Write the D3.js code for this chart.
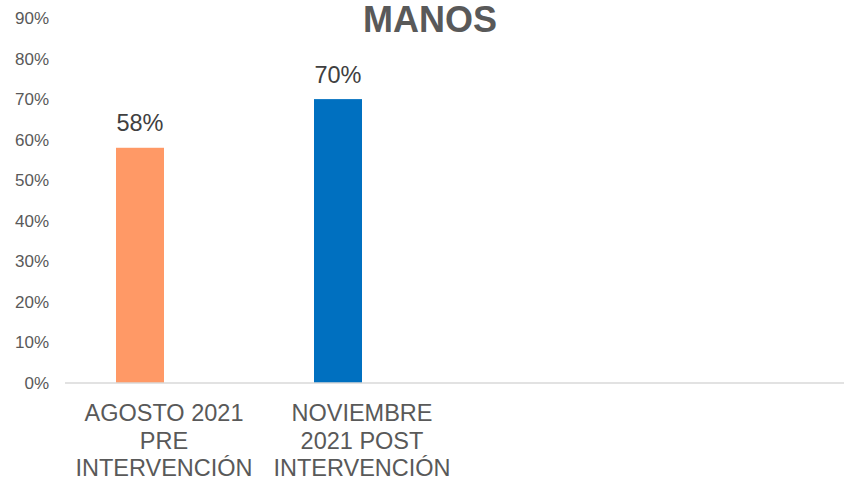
<!DOCTYPE html>
<html>
<head>
<meta charset="utf-8">
<script src="https://cdn.jsdelivr.net/npm/d3@7"></script>
<style>
  body { margin: 0; background: #fff; }
  svg { display: block; font-family: Arial, "Liberation Sans", sans-serif; }
</style>
</head>
<body>
<svg id="chart" width="844" height="480"></svg>
<script>
// data
let title = 'MANOS'
let categories = ['AGOSTO 2021 PRE INTERVENCIÓN', 'NOVIEMBRE 2021 POST INTERVENCIÓN']
let values = [0.58, 0.70]
let bar_colors = ['#FF9966', '#0070C0']
let y_ticks = [0, 0.1, 0.2, 0.3, 0.4, 0.5, 0.6, 0.7, 0.8, 0.9]

let width = 844, height = 480
let axis_left = 65, y_bottom = 383, y_top = 18

let svg = d3.select('#chart')

// slots of 198px starting at the axis; each bar sits just left of its slot centre
let xScale = d3.scaleBand()
    .domain(categories)
    .range([axis_left, axis_left + 396])
    .padding(0)

let bar_w = xScale.bandwidth() * 0.2424

let yScale = d3.scaleLinear()
    .domain([0, 0.9])
    .range([y_bottom, y_top])

// y tick labels (no axis line in the reference)
let yAxisGen = d3.axisLeft(yScale)
    .tickValues(y_ticks)
    .tickFormat(d3.format('.0%'))
    .tickSize(0)
    .tickPadding(0)

let yAxis = svg.append('g')
    .attr('transform', 'translate(49,0)')
    .call(yAxisGen)
yAxis.select('.domain').remove()
yAxis.selectAll('text')
    .style('font-size', '17px')
    .style('font-family', 'Arial, "Liberation Sans", sans-serif')
    .attr('fill', '#595959')

let centre = d => xScale(d) + xScale.bandwidth() / 2

// bars
svg.selectAll('.bar')
    .data(categories)
    .enter().append('rect')
    .attr('class', 'bar')
    .attr('x', d => centre(d) - bar_w)
    .attr('width', bar_w)
    .attr('y', (d, i) => yScale(values[i]))
    .attr('height', (d, i) => yScale(0) - yScale(values[i]))
    .attr('fill', (d, i) => bar_colors[i])

// baseline
svg.append('line')
    .attr('x1', axis_left).attr('x2', width)
    .attr('y1', yScale(0)).attr('y2', yScale(0))
    .attr('stroke', '#d9d9d9')
    .attr('stroke-width', 1.5)

// value labels
svg.selectAll('.val')
    .data(categories)
    .enter().append('text')
    .attr('class', 'val')
    .attr('x', d => centre(d) - bar_w / 2)
    .attr('y', (d, i) => yScale(values[i]) - 16.5)
    .attr('text-anchor', 'middle')
    .style('font-size', '23.5px')
    .attr('fill', '#404040')
    .text((d, i) => d3.format('.0%')(values[i]))

// category labels, wrapped
function wrap(textSel, max_w) {
    textSel.each(function () {
        let text = d3.select(this)
        let words = text.text().split(' ')
        let x = text.attr('x')
        text.text(null)
        let line = []
        let tspan = text.append('tspan').attr('x', x).attr('dy', 0)
        words.forEach(w => {
            line.push(w)
            tspan.text(line.join(' '))
            if (tspan.node().getComputedTextLength() > max_w && line.length > 1) {
                line.pop()
                tspan.text(line.join(' '))
                line = [w]
                tspan = text.append('tspan').attr('x', x).attr('dy', '27.5px').text(w)
            }
        })
    })
}

svg.selectAll('.cat')
    .data(categories)
    .enter().append('text')
    .attr('class', 'cat')
    .attr('x', centre)
    .attr('y', yScale(0) + 38)
    .attr('text-anchor', 'middle')
    .style('font-size', '23.5px')
    .attr('fill', '#595959')
    .text(d => d)
    .call(wrap, 190)

// title
svg.append('text')
    .attr('x', 430)
    .attr('y', 32)
    .attr('text-anchor', 'middle')
    .style('font-size', '36px')
    .style('font-weight', 'bold')
    .attr('fill', '#595959')
    .text(title)
</script>
</body>
</html>
